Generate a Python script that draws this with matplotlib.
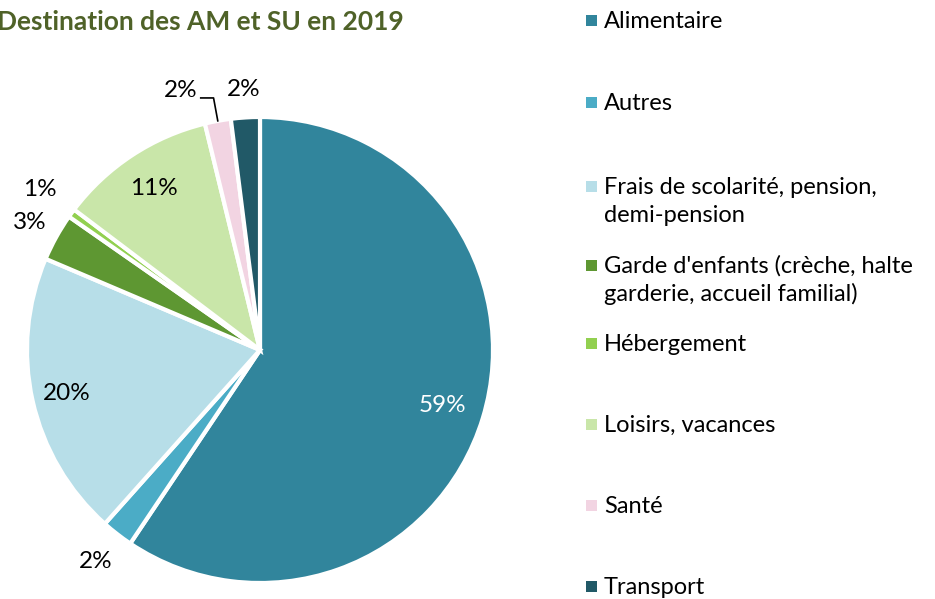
import numpy as np
import matplotlib
matplotlib.use("Agg")
import matplotlib.pyplot as plt
from matplotlib.patches import Rectangle

plt.rcParams["font.family"] = ["Lato", "DejaVu Sans"]

# =============================================================
# DONNÉES
# =============================================================
titre = "Destination des AM et SU en 2019"
categories = [
    "Alimentaire",
    "Autres",
    "Frais de scolarité, pension,\ndemi-pension",
    "Garde d'enfants (crèche, halte\ngarderie, accueil familial)",
    "Hébergement",
    "Loisirs, vacances",
    "Santé",
    "Transport",
]
parts = [59.4, 2.2, 19.8, 3.3, 0.6, 10.9, 1.8, 2.0]
couleurs = ["#31859C", "#4BACC6", "#B7DEE8", "#5E9732",
            "#92D050", "#C9E6A9", "#F2D4E2", "#215967"]

# placement des étiquettes (fraction du rayon) et couleur du texte
rayons_etiq = [0.82, 1.15, 0.85, 1.13, 1.17, 0.83, None, 1.12]
couleur_etiq = ["white", "black", "black", "black", "black", "black", "black", "black"]
# position verticale (px depuis le haut) de la 1re ligne de chaque entrée de légende
legende_y = [20, 102, 186, 265, 343, 424, 505, 586]
interligne = 28

W, H = 935, 599
FS = 17.5

# =============================================================
# CAMEMBERT
# =============================================================
fig = plt.figure(figsize=(W / 100, H / 100), dpi=100)
cx, cy, r = 260, 350, 233
ax = fig.add_axes([(cx - r) / W, (H - cy - r) / H, 2 * r / W, 2 * r / H])
wedges, _ = ax.pie(parts, colors=couleurs, startangle=90, counterclock=False,
                   wedgeprops=dict(edgecolor="white", linewidth=3))
ax.set_xlim(-1, 1)
ax.set_ylim(-1, 1)
ax.set_aspect("equal")

for w, v, rr, c in zip(wedges, parts, rayons_etiq, couleur_etiq):
    ang = np.deg2rad((w.theta1 + w.theta2) / 2)
    txt = f"{v:.0f}%"
    if rr is None:
        # petite part : étiquette déportée avec trait de rappel
        p0 = np.array([np.cos(ang), np.sin(ang)]) * 1.0
        p1 = np.array([np.cos(ang), np.sin(ang)]) * 1.1
        p2 = p1 + np.array([-0.055, 0.0])
        ax.plot([p0[0], p1[0], p2[0]], [p0[1], p1[1], p2[1]],
                color="black", lw=1.2, clip_on=False)
        ax.text(p2[0] - 0.015, p2[1] + 0.03, txt, ha="right", va="center",
                fontsize=FS, color=c)
        continue
    ax.text(rr * np.cos(ang), rr * np.sin(ang), txt, ha="center", va="center",
            fontsize=FS, color=c)

# =============================================================
# TITRE ET LÉGENDE
# =============================================================
fig.text(-3 / W, 1 - 22 / H, titre, ha="left", va="center",
         fontsize=19, fontweight="bold", color="#4F6228")

for cat, col, y in zip(categories, couleurs, legende_y):
    fig.patches.append(Rectangle((586 / W, 1 - (y + 6) / H), 11 / W, 11 / H,
                                 transform=fig.transFigure, facecolor=col,
                                 edgecolor="none"))
    for i, ligne in enumerate(cat.split("\n")):
        fig.text(604 / W, 1 - (y + 8 + i * interligne) / H, ligne,
                 ha="left", va="baseline", fontsize=17, color="black")

fig.savefig("out.png", dpi=100)
